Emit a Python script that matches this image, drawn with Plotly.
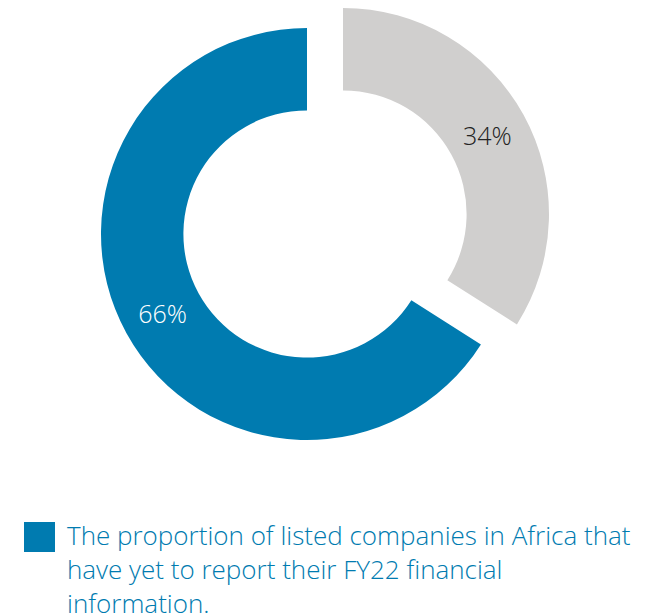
import plotly.graph_objects as go

# Share of listed African companies by FY22 reporting status
labels = ["Reported", "Yet to report"]
values = [34, 66]
colors = ["#D0CFCE", "#007BB0"]
legend_text = ("The proportion of listed companies in Africa that<br>"
               "have yet to report their FY22 financial<br>"
               "information.")

W, H = 663, 616
R = 206          # outer radius in px
CX, CY = 307, 234  # centre of the main ring (px from top-left)
SHIFT = (36, -20)  # offset of the separated slice (px)
FONT = "Open Sans"


def domain_for(cx, cy, r):
    return dict(x=[(cx - r) / W, (cx + r) / W],
                y=[1 - (cy + r) / H, 1 - (cy - r) / H])


def ring(show_idx, dom):
    cols = [c if i == show_idx else "rgba(0,0,0,0)" for i, c in enumerate(colors)]
    txt = [f"{v}%" if i == show_idx else "" for i, v in enumerate(values)]
    font_cols = ["#222222", "#ffffff"]
    return go.Pie(
        labels=labels, values=values, sort=False, direction="clockwise",
        rotation=0, hole=0.6, domain=dom,
        marker=dict(colors=cols, line=dict(width=0)),
        text=txt, textinfo="text", textposition="inside",
        insidetextorientation="horizontal",
        textfont=dict(family=FONT, size=25, color=font_cols[show_idx], weight=300),
        showlegend=False, hoverinfo="label+percent",
    )


fig = go.Figure()
fig.add_trace(ring(1, domain_for(CX, CY, R)))
fig.add_trace(ring(0, domain_for(CX + SHIFT[0], CY + SHIFT[1], R)))

# legend swatch and label
fig.add_shape(type="rect", xref="paper", yref="paper",
              x0=24 / W, x1=55 / W, y0=1 - 552 / H, y1=1 - 522 / H,
              fillcolor=colors[1], line=dict(width=0))
fig.add_annotation(xref="paper", yref="paper", x=65 / W, y=1 - 515 / H,
                   xanchor="left", yanchor="top", align="left", showarrow=False,
                   text=legend_text,
                   font=dict(family=FONT, size=26, color=colors[1], weight=300))

fig.update_layout(width=W, height=H, margin=dict(l=0, r=0, t=0, b=0),
                  paper_bgcolor="white", plot_bgcolor="white",
                  uniformtext=dict(minsize=10, mode="show"))
fig.write_html("out.html")
